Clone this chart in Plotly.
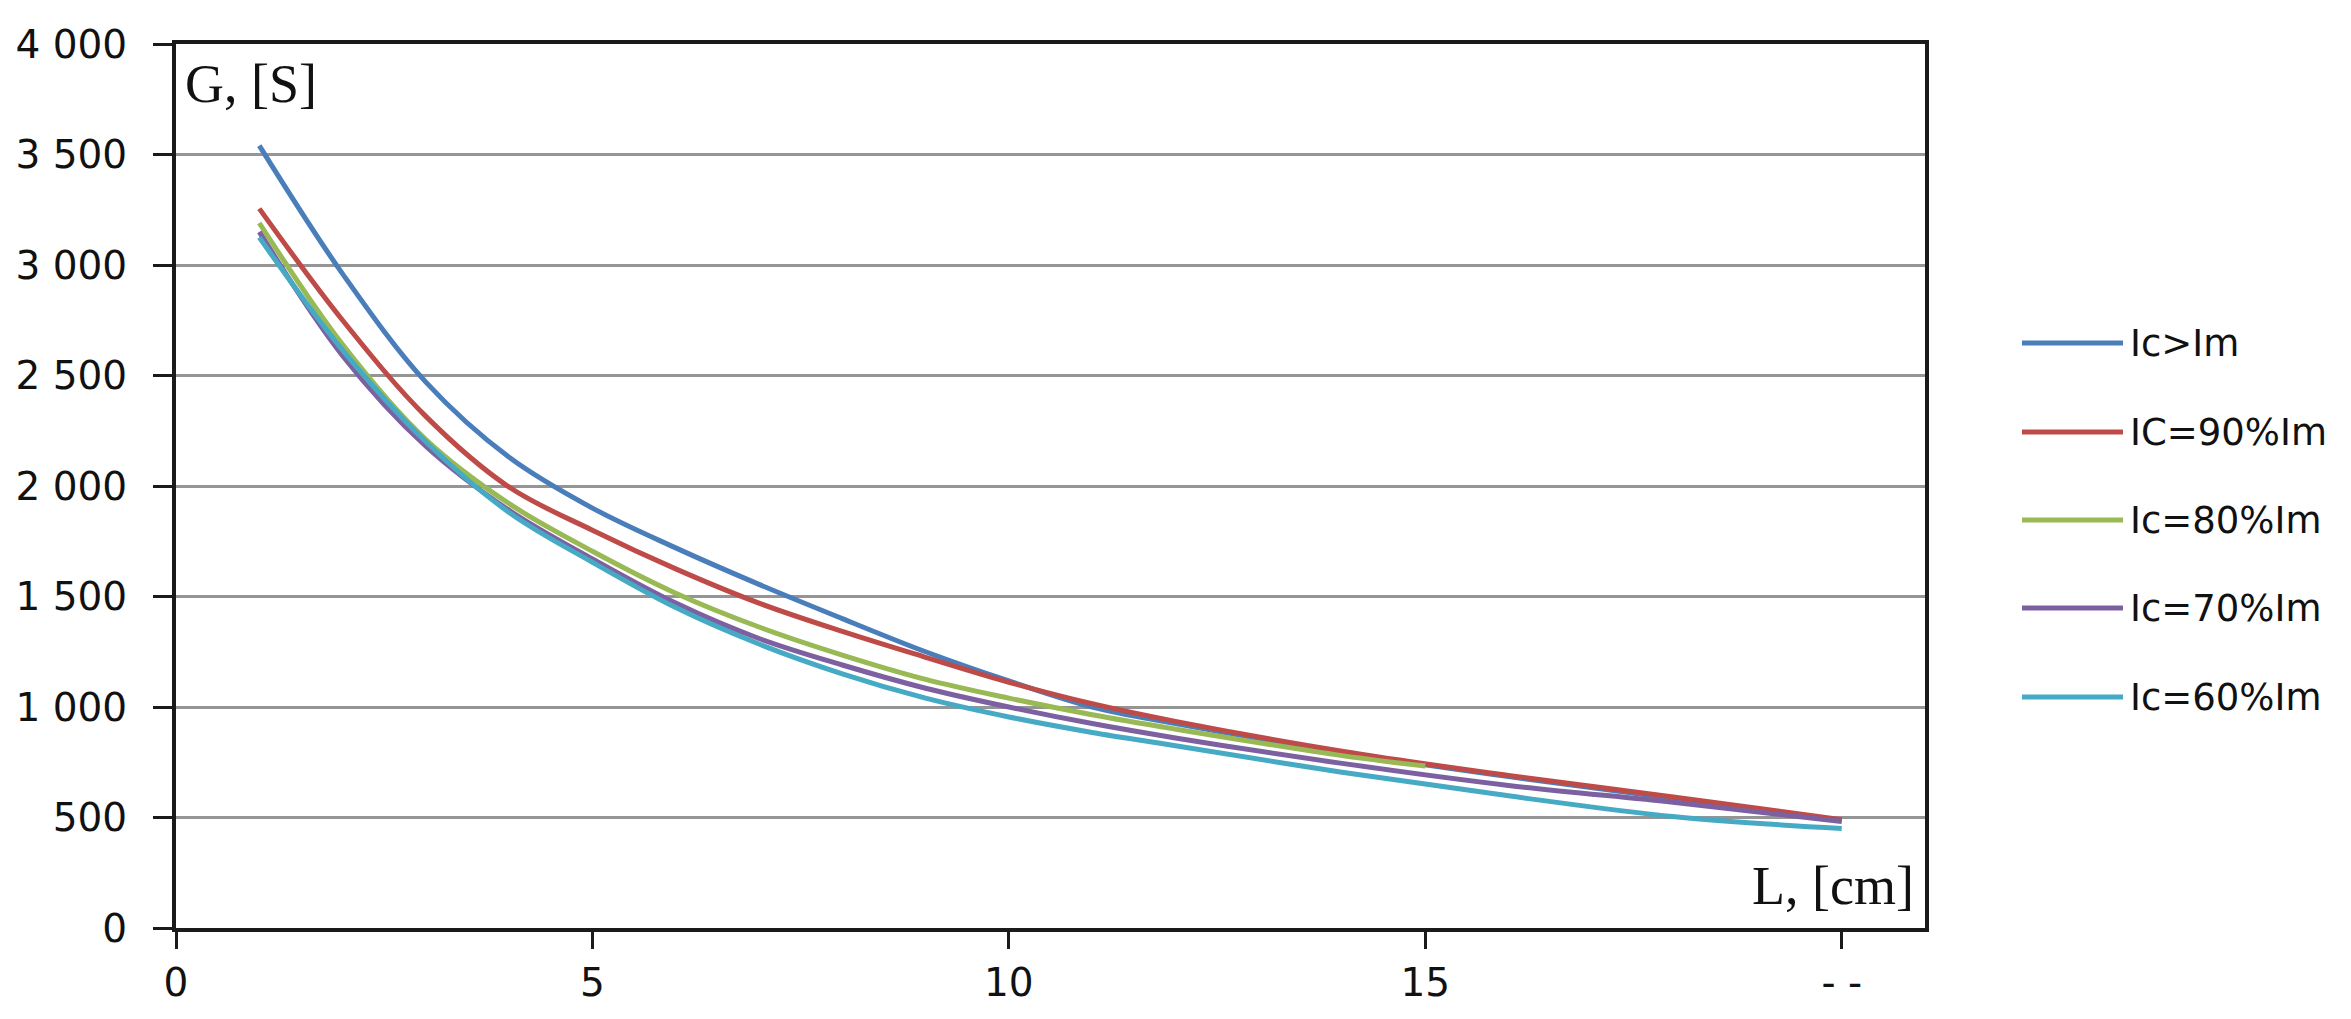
import plotly.graph_objects as go

# ---- data ----
x_long = [1, 2, 3, 4, 5, 6, 7, 8, 9, 10, 11, 12, 14, 16, 18, 20]
x_green = [1, 2, 3, 4, 5, 6, 7, 8, 9, 10, 11, 12, 14, 15]

g_ic_gt_im = [3540, 2960, 2470, 2130, 1900, 1720, 1555, 1400, 1250, 1118, 1000, 925, 795, 685, 585, 487]
g_ic_90 = [3255, 2750, 2315, 1995, 1800, 1625, 1470, 1342, 1225, 1112, 1015, 935, 800, 690, 592, 490]
g_ic_80 = [3190, 2640, 2210, 1920, 1705, 1515, 1362, 1235, 1125, 1040, 965, 900, 780, 733]
g_ic_70 = [3150, 2590, 2180, 1890, 1670, 1470, 1310, 1190, 1085, 1000, 925, 860, 745, 645, 568, 482]
g_ic_60 = [3125, 2615, 2200, 1880, 1655, 1450, 1285, 1150, 1040, 955, 885, 825, 705, 598, 503, 450]

series_names = ["Ic>Im", "IC=90%Im", "Ic=80%Im", "Ic=70%Im", "Ic=60%Im"]
series_x = [x_long, x_long, x_green, x_long, x_long]
series_y = [g_ic_gt_im, g_ic_90, g_ic_80, g_ic_70, g_ic_60]
colors = ["#4A7EBB", "#BE4B48", "#98B954", "#7D60A0", "#46AAC5"]

y_tickvals = [0, 500, 1000, 1500, 2000, 2500, 3000, 3500, 4000]
y_ticktext = ["0", "500", "1 000", "1 500", "2 000", "2 500", "3 000", "3 500", "4 000"]
x_tickvals = [0, 5, 10, 15, 20]
x_ticktext = ["0", "5", "10", "15", "- -"]

# ---- layout geometry (page pixels; the page body adds an 8px margin all round) ----
OFF = 8
PAGE_W, PAGE_H = 2351, 1019
W, H = PAGE_W - 2 * OFF, PAGE_H - 2 * OFF      # figure fits the window exactly
L_PX, R_PX, T_PX, B_PX = 176, 1925, 44, 928    # plot box in page pixels
pw, ph = R_PX - L_PX, B_PX - T_PX


def px_x(px):
    return (px - L_PX) / pw


def px_y(py):
    return (B_PX - py) / ph


fig = go.Figure()
for name, xs, ys, c in zip(series_names, series_x, series_y, colors):
    fig.add_trace(go.Scatter(
        x=xs, y=ys, name=name, mode="lines",
        line=dict(color=c, width=5, shape="spline", smoothing=1.0),
        showlegend=False,
    ))

tick_font = dict(family="DejaVu Sans", size=39, color="#111111")

fig.update_layout(
    width=W, height=H,
    margin=dict(l=L_PX - OFF, r=(W + OFF) - R_PX, t=T_PX - OFF, b=(H + OFF) - B_PX,
                pad=0, autoexpand=False),
    paper_bgcolor="white", plot_bgcolor="white",
    xaxis=dict(
        range=[0, 21], tickvals=x_tickvals, ticktext=x_ticktext,
        showgrid=False, zeroline=False, automargin=False,
        showline=True, linecolor="#1a1a1a", linewidth=4, mirror=True,
        ticks="outside", ticklen=17, tickwidth=3, tickcolor="#1a1a1a",
        tickfont=tick_font, ticklabelstandoff=0,
    ),
    yaxis=dict(
        range=[0, 4000], tickvals=y_tickvals, ticktext=y_ticktext,
        showgrid=True, gridcolor="#959595", gridwidth=3, zeroline=False, automargin=False,
        showline=True, linecolor="#1a1a1a", linewidth=4, mirror=True,
        ticks="outside", ticklen=19, tickwidth=3, tickcolor="#1a1a1a",
        tickfont=tick_font, ticklabelstandoff=18,
    ),
)

# axis titles inside the plot area
fig.add_annotation(
    x=px_x(183), y=px_y(84), xref="paper", yref="paper",
    text="G, [S]", showarrow=False, xanchor="left", yanchor="middle",
    font=dict(family="Liberation Serif", size=54, color="#111111"),
)
fig.add_annotation(
    x=px_x(1916), y=px_y(886), xref="paper", yref="paper",
    text="L, [cm]", showarrow=False, xanchor="right", yanchor="middle",
    font=dict(family="Liberation Serif", size=54, color="#111111"),
)

# legend drawn at the right
row_y = [343, 432, 520, 608, 697]
for name, c, ry in zip(series_names, colors, row_y):
    fig.add_shape(
        type="line", xref="paper", yref="paper",
        x0=px_x(2022), x1=px_x(2123), y0=px_y(ry), y1=px_y(ry),
        line=dict(color=c, width=5),
    )
    fig.add_annotation(
        x=px_x(2128), y=px_y(ry), xref="paper", yref="paper",
        text=name, showarrow=False, xanchor="left", yanchor="middle",
        font=dict(family="DejaVu Sans", size=37, color="#111111"),
    )

fig.write_html("out.html")
